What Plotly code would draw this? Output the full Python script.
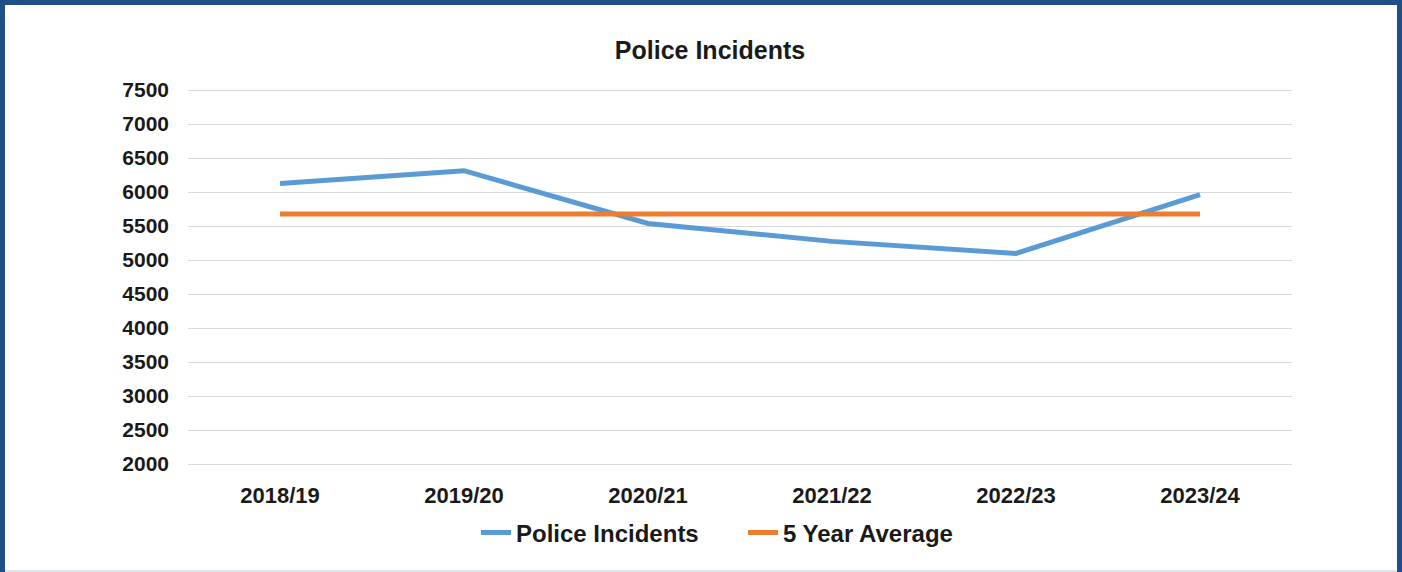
import plotly.graph_objects as go

categories = ["2018/19", "2019/20", "2020/21", "2021/22", "2022/23", "2023/24"]
police_incidents = [6126, 6313, 5538, 5274, 5097, 5960]
five_year_average = [5677, 5677, 5677, 5677, 5677, 5677]
y_ticks = list(range(2000, 7501, 500))

W, H = 1402, 572
EXT = 2  # extra px so edge gridlines are drawn
L, R, T, B = 188, 110, 90 - EXT, 108 - EXT
PW, PH = W - L - R, H - T - B
U_PER_PX = 500 / 34.0

def px_x(x):
    return (x - L) / PW

def px_y(y):
    return (H - B - y) / PH

FONT = "Liberation Sans, Arial, sans-serif"
TXT = "#1a1a1a"

fig = go.Figure()
fig.add_trace(go.Scatter(x=categories, y=police_incidents, mode="lines",
                         name="Police Incidents",
                         line=dict(color="#5b9bd5", width=5)))
fig.add_trace(go.Scatter(x=categories, y=five_year_average, mode="lines",
                         name="5 Year Average",
                         line=dict(color="#ed7d31", width=5)))

border = "#1f4e89"
shapes = [
    dict(type="rect", xref="paper", yref="paper", x0=px_x(0), x1=px_x(5), y0=px_y(572), y1=px_y(0),
         fillcolor=border, line=dict(width=0), layer="above"),
    dict(type="rect", xref="paper", yref="paper", x0=px_x(0), x1=px_x(1402), y0=px_y(5), y1=px_y(0),
         fillcolor=border, line=dict(width=0), layer="above"),
    dict(type="rect", xref="paper", yref="paper", x0=px_x(1397), x1=px_x(1402), y0=px_y(572), y1=px_y(0),
         fillcolor=border, line=dict(width=0), layer="above"),
    dict(type="rect", xref="paper", yref="paper", x0=px_x(5), x1=px_x(1397), y0=px_y(572), y1=px_y(570),
         fillcolor="#e3e6ea", line=dict(width=0), layer="above"),
]

fig.update_layout(
    width=W, height=H,
    margin=dict(l=L, r=R, t=T, b=B, pad=0),
    paper_bgcolor="white", plot_bgcolor="white",
    font=dict(family=FONT, color=TXT),
    title=dict(text="Police Incidents", x=710 / W, xanchor="center", xref="container",
               y=1 - 50 / H, yanchor="middle", yref="container",
               font=dict(family=FONT, size=25, weight="bold", color=TXT)),
    xaxis=dict(type="category", range=[-0.5, 5.5], showgrid=False, zeroline=False,
               showline=False, ticks="", ticklabelstandoff=12 + EXT,
               tickfont=dict(family=FONT, size=22, weight="bold", color=TXT)),
    yaxis=dict(range=[2000 - EXT * U_PER_PX, 7500 + EXT * U_PER_PX], tickvals=y_ticks,
               showgrid=True, gridcolor="#d9d9d9",
               gridwidth=1, zeroline=False, showline=False, ticks="", ticklabelstandoff=18,
               tickfont=dict(family=FONT, size=21, weight="bold", color=TXT)),
    legend=dict(orientation="h", x=px_x(476), xanchor="left", y=px_y(533), yanchor="middle",
                font=dict(family=FONT, size=24, weight="bold", color=TXT),
                bgcolor="rgba(0,0,0,0)", itemwidth=30,
                entrywidth=222, entrywidthmode="pixels"),
    showlegend=True,
    shapes=shapes,
)

fig.write_html("out.html", config={"displayModeBar": False},
               post_script="document.body.style.margin='0';document.body.style.overflow='hidden';")
